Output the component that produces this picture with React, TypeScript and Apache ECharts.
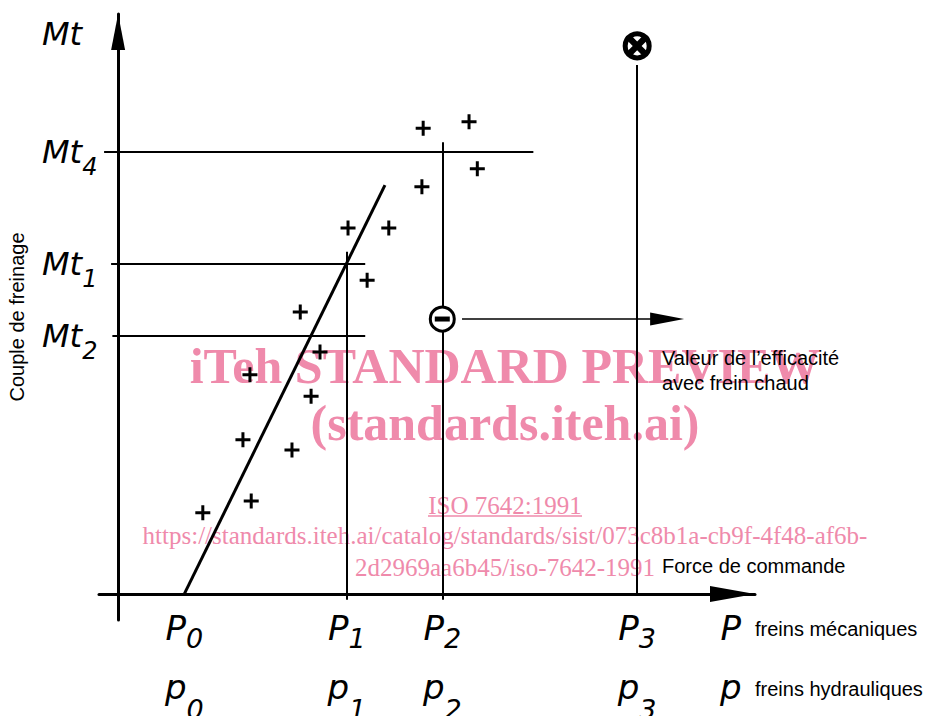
import React, { useEffect, useRef } from 'react';
import * as echarts from 'echarts';

// ---- data (arbitrary schematic units) ----
const forceTicks = [10.4, 35.9, 50.9, 81.5, 96.2];
const forceSubscripts = ['0', '1', '2', '3', ''];
const torqueTicks = [44.5, 56.9, 76.2, 96.6];
const torqueSubscripts = ['2', '1', '4', ''];

const testPoints = [
  [47.9, 80.3], [55.1, 81.4], [56.4, 73.3], [47.7, 70.2],
  [36.1, 63.1], [42.5, 63.1], [39.1, 54.1], [28.6, 48.6],
  [31.7, 41.7], [20.7, 37.8], [30.3, 34.1], [19.6, 26.6],
  [27.3, 24.8], [20.9, 16.0], [13.3, 14.0],
];
const fitLine = [[10.4, 0], [41.9, 70.5]];
const torqueGuides = [
  [[-2.2, 76.2], [65.2, 76.2]],
  [[-1.1, 56.9], [38.8, 56.9]],
  [[-0.9, 44.5], [38.8, 44.5]],
];
const forceGuides = [
  [[35.9, -1], [35.9, 59.0]],
  [[50.9, -1], [50.9, 77.9]],
  [[81.5, 0], [81.5, 91.2]],
];
const hotPoint = [[50.9, 47.4]];
const limitPoint = [[81.5, 94.5]];
const hotArrow = [[54.0, 47.4], [86.2, 47.4]];

const INK = '#000';
const WM = '#ef8aab';
const LETTER = '"DejaVu Sans", sans-serif';
const SANS = '"Liberation Sans", Arial, sans-serif';
const SERIF = '"Liberation Serif", "Times New Roman", serif';

function nearestIndex(arr: number[], v: number) {
  let best = 0;
  for (let i = 1; i < arr.length; i++) if (Math.abs(arr[i] - v) < Math.abs(arr[best] - v)) best = i;
  return best;
}

export default function App() {
  const ref = useRef<HTMLDivElement>(null);
  useEffect(() => {
    if (!ref.current) return;
    const chart = echarts.init(ref.current, null, { renderer: 'svg' });
    const option: any = {
      animation: false,
      backgroundColor: '#fff',
      grid: { left: 99, right: 177, top: 14, bottom: 96, containLabel: false, outerBoundsMode: 'none' },
      xAxis: {
        type: 'value', min: -3, max: 100,
        splitLine: { show: false }, axisTick: { show: false },
        axisLine: {
          onZero: true, lineStyle: { color: INK, width: 3 },
          symbol: ['none', 'path://M8,0L16,45L0,45Z'], symbolSize: [16, 45], symbolOffset: [0, -22.5],
        },
        axisLabel: {
          customValues: forceTicks, hideOverlap: false, margin: -16.5, color: INK,
          formatter: (v: number) => {
            const s = forceSubscripts[nearestIndex(forceTicks, v)];
            return s ? `{P|P}{s|${s}}\n{p|p}{s2|${s}}` : `{P|P}\n{p|p}`;
          },
          rich: {
            P: { fontFamily: LETTER, fontStyle: 'italic', fontSize: 34, lineHeight: 48, verticalAlign: 'middle', color: INK },
            s: { fontFamily: LETTER, fontStyle: 'italic', fontSize: 27, lineHeight: 26, verticalAlign: 'bottom', color: INK },
            p: { fontFamily: LETTER, fontStyle: 'italic', fontSize: 34, lineHeight: 71, verticalAlign: 'middle', color: INK },
            s2: { fontFamily: LETTER, fontStyle: 'italic', fontSize: 27, lineHeight: 39, verticalAlign: 'bottom', color: INK },
          },
        },
      },
      yAxis: {
        type: 'value', min: -4.5, max: 100,
        splitLine: { show: false }, axisTick: { show: false },
        name: 'Couple de freinage', nameLocation: 'middle', nameGap: 72,
        nameTextStyle: { fontFamily: SANS, fontSize: 20, color: INK },
        axisLine: {
          onZero: true, lineStyle: { color: INK, width: 3 },
          symbol: ['none', 'path://M7,0L14,36L0,36Z'], symbolSize: [14, 36], symbolOffset: [0, -18],
        },
        axisLabel: {
          customValues: torqueTicks, hideOverlap: false, margin: 57, align: 'left', color: INK,
          formatter: (v: number) => {
            const s = torqueSubscripts[nearestIndex(torqueTicks, v)];
            return s ? `{m|Mt}{s|${s}}` : `{m|Mt}`;
          },
          rich: {
            m: { fontFamily: LETTER, fontStyle: 'italic', fontSize: 32, lineHeight: 54, verticalAlign: 'middle', color: INK },
            s: { fontFamily: LETTER, fontStyle: 'italic', fontSize: 24, lineHeight: 24, verticalAlign: 'bottom', color: INK },
          },
        },
      },
      series: [
        {
          type: 'lines', coordinateSystem: 'cartesian2d', silent: true, z: 3,
          lineStyle: { color: INK, width: 2, opacity: 1 },
          data: [...torqueGuides, ...forceGuides].map((c) => ({ coords: c })),
        },
        {
          type: 'lines', coordinateSystem: 'cartesian2d', silent: true, z: 3,
          lineStyle: { color: INK, width: 3, opacity: 1 },
          data: [{ coords: fitLine }],
        },
        {
          type: 'lines', coordinateSystem: 'cartesian2d', silent: true, z: 3,
          lineStyle: { color: INK, width: 1.5, opacity: 1 },
          symbol: ['none', 'path://M6.5,0L13,34L0,34Z'], symbolSize: [0, [13, 34]],
          data: [{ coords: hotArrow }],
        },
        {
          type: 'scatter', silent: true, z: 5, data: testPoints,
          symbol: 'path://M6,0H9V6H15V9H9V15H6V9H0V6H6Z', symbolSize: 15,
          itemStyle: { color: INK, opacity: 1 },
        },
        {
          type: 'scatter', silent: true, z: 6, data: limitPoint, symbol: 'circle', symbolSize: 24,
          itemStyle: { color: '#fff', borderColor: INK, borderWidth: 5, opacity: 1 },
        },
        {
          type: 'scatter', silent: true, z: 7, data: limitPoint,
          symbol: 'path://M8,0H14V8H22V14H14V22H8V14H0V8H8Z', symbolSize: 23, symbolRotate: 45,
          itemStyle: { color: INK, opacity: 1 },
        },
        {
          type: 'scatter', silent: true, z: 6, data: hotPoint, symbol: 'circle', symbolSize: 24,
          itemStyle: { color: '#fff', borderColor: INK, borderWidth: 3, opacity: 1 },
        },
        {
          type: 'scatter', silent: true, z: 7, data: hotPoint, symbol: 'rect', symbolSize: [15, 5],
          itemStyle: { color: INK, opacity: 1 },
        },
      ],
      graphic: [
        { type: 'text', z: 0, x: 505, y: 366, style: { text: 'iTeh STANDARD PREVIEW', fill: WM, font: `bold 50px ${SERIF}`, align: 'center', verticalAlign: 'middle' } },
        { type: 'text', z: 0, x: 505, y: 423, style: { text: '(standards.iteh.ai)', fill: WM, font: `bold 50px ${SERIF}`, align: 'center', verticalAlign: 'middle' } },
        { type: 'text', z: 0, x: 505, y: 505, style: { text: 'ISO 7642:1991', fill: WM, font: `25px ${SERIF}`, align: 'center', verticalAlign: 'middle' } },
        { type: 'line', z: 0, shape: { x1: 428, y1: 516, x2: 582, y2: 516 }, style: { stroke: WM, lineWidth: 1.5 } },
        { type: 'text', z: 0, x: 505, y: 535, style: { text: 'https://standards.iteh.ai/catalog/standards/sist/073c8b1a-cb9f-4f48-af6b-', fill: WM, font: `25px ${SERIF}`, align: 'center', verticalAlign: 'middle' } },
        { type: 'text', z: 0, x: 505, y: 567, style: { text: '2d2969aa6b45/iso-7642-1991', fill: WM, font: `25px ${SERIF}`, align: 'center', verticalAlign: 'middle' } },
        { type: 'text', z: 10, x: 662, y: 358, style: { text: 'Valeur de l’efficacité', fill: INK, font: `20px ${SANS}`, align: 'left', verticalAlign: 'middle' } },
        { type: 'text', z: 10, x: 662, y: 383, style: { text: 'avec frein chaud', fill: INK, font: `20px ${SANS}`, align: 'left', verticalAlign: 'middle' } },
        { type: 'text', z: 10, x: 662, y: 566, style: { text: 'Force de commande', fill: INK, font: `20px ${SANS}`, align: 'left', verticalAlign: 'middle' } },
        { type: 'text', z: 10, x: 755, y: 629, style: { text: 'freins mécaniques', fill: INK, font: `20px ${SANS}`, align: 'left', verticalAlign: 'middle' } },
        { type: 'text', z: 10, x: 755, y: 689, style: { text: 'freins hydrauliques', fill: INK, font: `20px ${SANS}`, align: 'left', verticalAlign: 'middle' } },
      ],
    };
    chart.setOption(option);
    return () => chart.dispose();
  }, []);
  return <div ref={ref} style={{ position: 'absolute', left: 0, top: 0, width: 932, height: 716 }} />;
}
